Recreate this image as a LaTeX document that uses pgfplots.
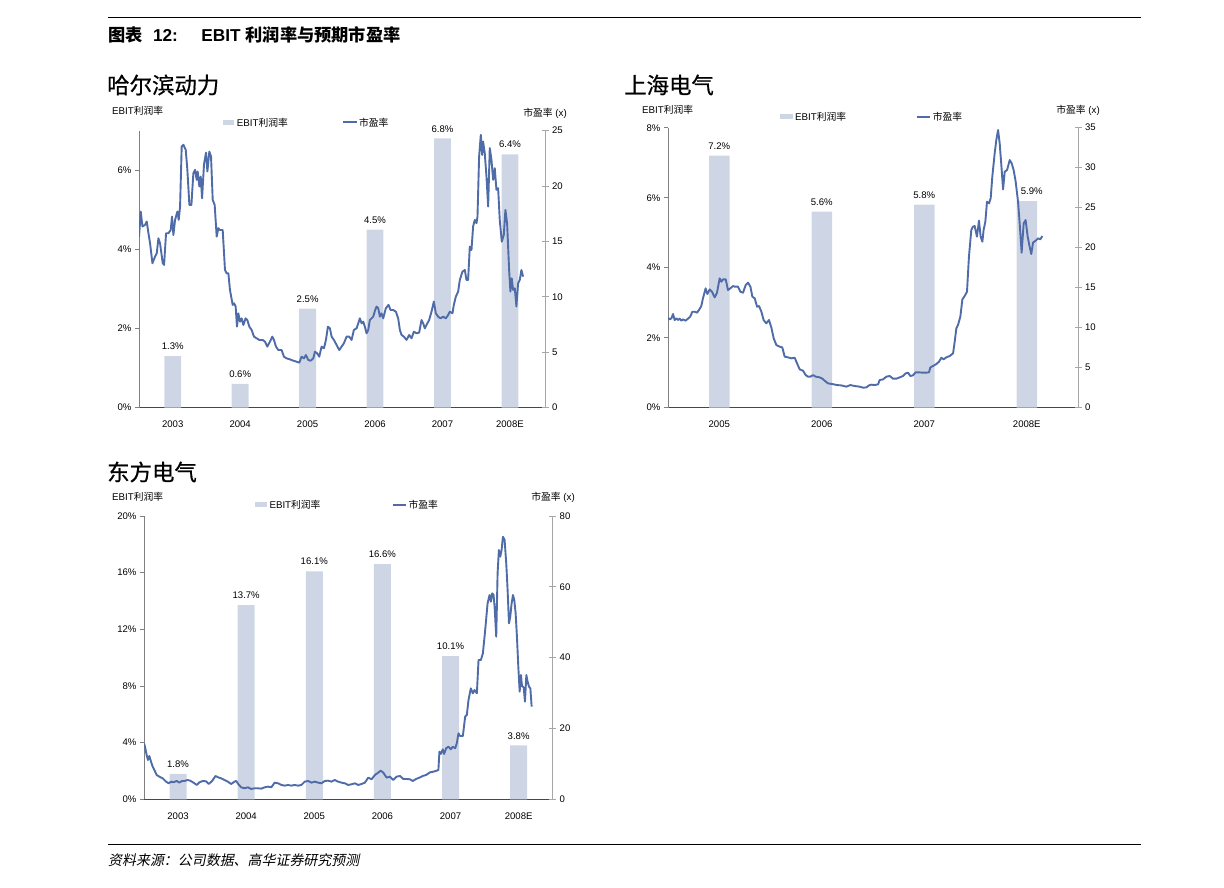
\documentclass[border=0pt]{standalone}
\usepackage{fontspec}
\setmainfont{Liberation Sans}
\newfontfamily\cjk{Noto Sans CJK SC}
\newfontfamily\cjkh[FakeBold=0.6]{Noto Sans CJK SC}
\newfontfamily\cjkit[FakeSlant=0.2]{Noto Sans CJK SC}
\usepackage{pgfplots}
\usepackage{pgfplotstable}
\pgfplotsset{compat=1.18}

\definecolor{barc}{RGB}{206,214,229}
\definecolor{linec}{RGB}{79,107,168}

\newcommand\tkfont{\fontsize{9.6}{11}\selectfont}
\newcommand\lbfont{\fontsize{9.8}{11}\selectfont}

% EBIT margins, one table per company
\pgfplotstableread{
x y
0 1.3
1 0.6
2 2.5
3 4.5
4 6.8
5 6.4
}\barsA
\pgfplotstableread{
x y
0 7.2
1 5.6
2 5.8
3 5.9
}\barsB
\pgfplotstableread{
x y
0 1.8
1 13.7
2 16.1
3 16.6
4 10.1
5 3.8
}\barsC

\pgfplotsset{
  common/.style={
    scale only axis, anchor=south west, ymin=0, enlargelimits=false,
    /pgf/number format/assume math mode=true,
    ticklabel style={font=\tkfont, text=black},
    axis line style={-},
  },
  barax/.style={common, clip=false, ybar,
    axis x line*=bottom, axis y line*=left,
    x axis line style={draw=black!72, line width=0.9bp},
    y axis line style={draw=black!50, line width=0.9bp},
    xtick={0,...,5}, xtick style={draw=none},
    ytick style={draw=black!50, line width=0.8bp},
    tick align=outside, major tick length=4bp,
    yticklabel={\pgfmathprintnumber{\tick}\%},
    xticklabel style={yshift=-5.5bp},
  },
  labax/.style={common, clip=false, ybar, bar shift=0pt, hide axis,
    nodes near coords={\pgfmathprintnumber[fixed,fixed zerofill,precision=1]{\pgfplotspointmeta}\%},
    every node near coord/.append style={font=\tkfont, text=black, inner sep=0pt, anchor=south, yshift=6bp},
  },
  lineax/.style={common,
    axis x line=none, axis y line*=right,
    y axis line style={draw=black!35, line width=0.9bp},
    ytick style={draw=black!35, line width=0.8bp},
    tick align=center, major tick length=7bp,
  },
  pe/.style={linec, line width=1.9bp, line join=round, mark=none},
  bars/.style={fill=barc, draw=none},
  nobars/.style={fill=none, draw=none},
}

\begin{document}
\begin{tikzpicture}
\path[use as bounding box] (0,0) rectangle (1224bp,-888bp);

% header and footer
\draw[line width=0.9bp] (108bp,-17bp) -- (1141bp,-17bp);
\node[anchor=west, inner sep=0pt] at (108bp,-35bp)
  {\fontsize{17.3}{19}\selectfont\bfseries{\cjk 图表}\hspace{10.4bp}12:\hspace{23.5bp}EBIT {\cjk 利润率与预期市盈率}};
\node[anchor=west, inner sep=0pt] at (107bp,-85bp) {\fontsize{22.5}{24}\selectfont\cjkh 哈尔滨动力};
\node[anchor=west, inner sep=0pt] at (624bp,-85bp) {\fontsize{22.5}{24}\selectfont\cjkh 上海电气};
\node[anchor=west, inner sep=0pt] at (107bp,-472bp) {\fontsize{22.5}{24}\selectfont\cjkh 东方电气};
\draw[line width=0.9bp] (108bp,-844bp) -- (1141bp,-844bp);
\node[anchor=west, inner sep=0pt] at (108bp,-860bp) {\fontsize{14}{16}\selectfont\cjkit 资料来源：公司数据、高华证券研究预测};

% ---------- chart 1: 哈尔滨动力 ----------
\node[anchor=west, inner sep=0pt, font=\lbfont] at (112bp,-111bp) {EBIT{\cjk 利润率}};
\node[anchor=east, inner sep=0pt, font=\lbfont] at (567bp,-113bp) {{\cjk 市盈率} (x)};
\fill[barc] (222.7bp,-119.5bp) rectangle (234.3bp,-125.1bp);
\node[anchor=west, inner sep=0pt, font=\lbfont] at (236.7bp,-122.3bp) {EBIT{\cjk 利润率}};
\draw[linec, line width=2bp] (343bp,-122.3bp) -- (357bp,-122.3bp);
\node[anchor=west, inner sep=0pt, font=\lbfont] at (359bp,-122.3bp) {\cjk 市盈率};

\begin{axis}[barax, at={(139bp,-407.7bp)}, width=406bp, height=277.2bp,
  xmin=-0.5, xmax=5.52, ymax=7, ytick={0,2,4,6}, bar width=0.25,
  xticklabels={2003,2004,2005,2006,2007,2008E}]
\addplot[bars] table {\barsA};
\end{axis}
\begin{axis}[lineax, at={(139bp,-407.7bp)}, width=406bp, height=277.2bp,
  xmin=-0.5, xmax=5.52, ymax=25, ytick={0,5,...,25}]
\addplot[pe] coordinates {
(-0.499,15.43) (-0.474,17.69) (-0.449,16.34) (-0.410,16.49) (-0.385,16.79) (-0.360,15.73) (-0.336,14.83) (-0.301,13.03) (-0.262,13.63) (-0.237,13.93) (-0.212,15.28) (-0.188,14.83) (-0.148,13.03) (-0.128,12.88) (-0.099,15.73) (-0.064,15.73) (-0.030,16.03) (-0.010,17.24) (0.010,15.58) (0.035,16.94) (0.069,17.69) (0.089,16.94) (0.109,18.14) (0.133,23.56) (0.158,23.71) (0.193,23.26) (0.217,21.45) (0.247,18.29) (0.277,18.29) (0.306,21.15) (0.331,21.45) (0.356,20.55) (0.370,21.30) (0.395,19.95) (0.415,20.85) (0.435,18.89) (0.464,21.96) (0.494,23.01) (0.514,21.30) (0.543,23.10) (0.568,22.65) (0.593,18.74) (0.622,18.29) (0.652,15.43) (0.677,16.19) (0.701,16.03) (0.741,16.03) (0.775,12.42) (0.800,12.12) (0.825,12.12) (0.849,10.62) (0.889,9.27) (0.909,9.42) (0.933,9.12) (0.953,7.31) (0.973,8.51) (0.998,7.76) (1.022,8.06) (1.047,7.46) (1.081,8.06) (1.106,7.91) (1.136,7.31) (1.170,7.01) (1.205,6.41) (1.244,6.26) (1.284,6.11) (1.333,6.11) (1.368,5.96) (1.402,5.51) (1.442,5.96) (1.477,6.41) (1.501,6.11) (1.531,5.51) (1.565,5.20) (1.615,5.20) (1.649,4.60) (1.689,4.45) (1.738,4.36) (1.788,4.24) (1.837,4.15) (1.877,4.06) (1.911,4.60) (1.946,4.45) (1.975,4.75) (2.010,4.30) (2.044,4.24) (2.084,4.45) (2.109,5.05) (2.143,4.90) (2.173,4.60) (2.207,5.51) (2.242,5.36) (2.272,6.11) (2.301,7.31) (2.331,7.16) (2.356,6.41) (2.390,6.11) (2.430,5.66) (2.469,5.20) (2.504,5.51) (2.538,5.81) (2.578,6.41) (2.617,6.41) (2.652,6.11) (2.686,7.01) (2.726,7.16) (2.751,7.61) (2.775,8.06) (2.800,7.61) (2.825,7.76) (2.849,7.31) (2.874,6.71) (2.899,7.01) (2.923,7.91) (2.948,8.06) (2.973,8.21) (3.002,8.81) (3.022,9.12) (3.047,8.97) (3.072,8.21) (3.096,8.51) (3.121,8.06) (3.160,8.97) (3.200,9.27) (3.230,8.81) (3.269,8.81) (3.309,8.66) (3.343,8.06) (3.368,7.01) (3.393,6.56) (3.427,6.41) (3.467,6.11) (3.506,6.56) (3.541,6.26) (3.575,6.86) (3.615,6.71) (3.654,6.77) (3.689,7.91) (3.714,7.61) (3.738,7.16) (3.763,7.46) (3.802,7.91) (3.837,8.66) (3.872,9.57) (3.901,8.51) (3.936,8.21) (3.970,8.06) (4.010,8.21) (4.049,8.06) (4.084,8.36) (4.109,8.66) (4.148,8.51) (4.168,9.27) (4.198,10.02) (4.232,10.47) (4.257,11.52) (4.296,12.27) (4.331,12.42) (4.356,11.52) (4.380,11.52) (4.405,14.53) (4.430,14.23) (4.454,16.34) (4.479,16.94) (4.504,16.64) (4.519,17.24) (4.543,22.65) (4.568,24.61) (4.588,22.80) (4.602,24.01) (4.627,22.95) (4.652,20.85) (4.677,18.14) (4.701,23.41) (4.726,22.37) (4.751,20.55) (4.775,21.60) (4.800,19.65) (4.825,19.80) (4.849,16.94) (4.879,14.98) (4.909,15.58) (4.933,17.84) (4.958,16.64) (4.988,12.42) (5.007,10.47) (5.027,11.67) (5.047,10.62) (5.072,10.77) (5.096,9.12) (5.121,11.22) (5.146,11.52) (5.170,12.42) (5.195,11.82)
};
\end{axis}
\begin{axis}[labax, at={(139bp,-407.7bp)}, width=406bp, height=277.2bp,
  xmin=-0.5, xmax=5.52, ymax=7, bar width=0.25]
\addplot[nobars] table {\barsA};
\end{axis}

% ---------- chart 2: 上海电气 ----------
\node[anchor=west, inner sep=0pt, font=\lbfont] at (642bp,-110bp) {EBIT{\cjk 利润率}};
\node[anchor=east, inner sep=0pt, font=\lbfont] at (1100bp,-110bp) {{\cjk 市盈率} (x)};
\fill[barc] (780bp,-113.7bp) rectangle (792.7bp,-119.3bp);
\node[anchor=west, inner sep=0pt, font=\lbfont] at (795bp,-116.5bp) {EBIT{\cjk 利润率}};
\draw[linec, line width=2bp] (916.7bp,-116.5bp) -- (930bp,-116.5bp);
\node[anchor=west, inner sep=0pt, font=\lbfont] at (932.7bp,-116.5bp) {\cjk 市盈率};

\begin{axis}[barax, at={(668bp,-407.7bp)}, width=410bp, height=280bp,
  xmin=-0.5, xmax=3.5, ymax=8, ytick={0,2,4,6,8}, bar width=0.2,
  xtick={0,...,3}, xticklabels={2005,2006,2007,2008E}]
\addplot[bars] table {\barsB};
\end{axis}
\begin{axis}[lineax, at={(668bp,-407.7bp)}, width=410bp, height=280bp,
  xmin=-0.5, xmax=3.5, ymax=35, ytick={0,5,...,35}]
\addplot[pe] coordinates {
(-0.500,11.25) (-0.484,11.04) (-0.467,11.17) (-0.451,11.71) (-0.435,10.96) (-0.419,11.17) (-0.402,10.96) (-0.386,11.13) (-0.370,10.88) (-0.354,11.04) (-0.329,10.88) (-0.305,11.13) (-0.283,11.38) (-0.263,12.00) (-0.240,12.00) (-0.217,11.88) (-0.198,12.21) (-0.175,12.71) (-0.159,13.67) (-0.133,14.92) (-0.116,14.21) (-0.093,14.79) (-0.071,14.50) (-0.045,13.79) (-0.022,14.38) (0.004,16.17) (0.020,15.75) (0.037,16.04) (0.063,16.04) (0.085,14.71) (0.108,14.92) (0.134,15.21) (0.150,15.13) (0.183,15.13) (0.206,14.50) (0.232,14.38) (0.258,15.33) (0.281,15.63) (0.304,15.13) (0.323,13.88) (0.346,13.67) (0.369,12.63) (0.388,12.71) (0.411,12.00) (0.433,10.96) (0.459,10.54) (0.485,10.96) (0.508,10.04) (0.531,8.67) (0.557,7.83) (0.589,7.63) (0.615,7.54) (0.638,6.38) (0.671,6.29) (0.703,6.17) (0.736,6.25) (0.759,5.54) (0.785,4.79) (0.817,4.63) (0.843,4.08) (0.866,3.88) (0.889,3.88) (0.915,4.08) (0.941,3.88) (0.980,3.79) (1.006,3.63) (1.028,3.38) (1.061,3.04) (1.103,2.96) (1.149,2.83) (1.191,2.79) (1.240,2.63) (1.279,2.83) (1.321,2.71) (1.370,2.63) (1.402,2.50) (1.435,2.54) (1.461,2.79) (1.484,2.88) (1.516,2.83) (1.549,2.92) (1.565,3.46) (1.598,3.54) (1.630,3.88) (1.663,3.96) (1.695,3.63) (1.728,3.63) (1.760,3.79) (1.793,3.96) (1.819,4.29) (1.842,4.38) (1.864,3.96) (1.890,4.04) (1.916,4.42) (1.949,4.42) (1.981,4.38) (2.020,4.38) (2.046,4.42) (2.060,5.04) (2.085,5.21) (2.118,5.46) (2.144,5.75) (2.167,6.25) (2.189,6.04) (2.215,6.29) (2.248,6.46) (2.281,6.79) (2.297,8.25) (2.313,9.92) (2.329,10.33) (2.352,11.38) (2.372,13.54) (2.394,13.96) (2.417,14.50) (2.436,18.88) (2.459,22.21) (2.475,22.63) (2.492,22.71) (2.514,21.38) (2.534,23.38) (2.550,21.38) (2.567,20.75) (2.579,22.21) (2.596,23.25) (2.612,25.75) (2.632,25.54) (2.648,26.17) (2.664,28.88) (2.687,31.79) (2.703,33.46) (2.720,34.71) (2.736,33.04) (2.752,30.33) (2.769,27.29) (2.785,29.50) (2.808,29.71) (2.834,30.96) (2.853,30.54) (2.872,29.71) (2.892,28.25) (2.915,25.75) (2.931,23.04) (2.950,19.38) (2.970,23.04) (2.989,23.46) (3.009,21.38) (3.028,20.13) (3.044,19.21) (3.061,20.63) (3.087,20.88) (3.110,21.17) (3.132,21.04) (3.152,21.46)
};
\end{axis}
\begin{axis}[labax, at={(668bp,-407.7bp)}, width=410bp, height=280bp,
  xmin=-0.5, xmax=3.5, ymax=8, bar width=0.2]
\addplot[nobars] table[skip coords between index={3}{4}] {\barsB};
\addplot[nobars, every node near coord/.append style={xshift=5bp}] table[skip coords between index={0}{3}] {\barsB};
\end{axis}

% ---------- chart 3: 东方电气 ----------
\node[anchor=west, inner sep=0pt, font=\lbfont] at (112bp,-497bp) {EBIT{\cjk 利润率}};
\node[anchor=east, inner sep=0pt, font=\lbfont] at (575bp,-497bp) {{\cjk 市盈率} (x)};
\fill[barc] (255bp,-501.7bp) rectangle (266.7bp,-507.3bp);
\node[anchor=west, inner sep=0pt, font=\lbfont] at (269.3bp,-504.5bp) {EBIT{\cjk 利润率}};
\draw[linec, line width=2bp] (392.7bp,-504.5bp) -- (406bp,-504.5bp);
\node[anchor=west, inner sep=0pt, font=\lbfont] at (408.3bp,-504.5bp) {\cjk 市盈率};

\begin{axis}[barax, at={(144bp,-799.3bp)}, width=408.7bp, height=283.3bp,
  xmin=-0.5, xmax=5.5, ymax=20, ytick={0,4,...,20}, bar width=0.25,
  xticklabels={2003,2004,2005,2006,2007,2008E}]
\addplot[bars] table {\barsC};
\end{axis}
\begin{axis}[lineax, at={(144bp,-799.3bp)}, width=408.7bp, height=283.3bp,
  xmin=-0.5, xmax=5.5, ymax=80, ytick={0,20,...,80}]
\addplot[pe] coordinates {
(-0.500,15.81) (-0.486,14.87) (-0.461,12.52) (-0.442,11.11) (-0.422,12.24) (-0.397,10.64) (-0.373,9.22) (-0.348,8.28) (-0.314,6.87) (-0.275,6.40) (-0.226,5.93) (-0.177,4.99) (-0.137,4.52) (-0.103,4.99) (-0.069,4.80) (-0.020,5.18) (0.020,4.71) (0.059,5.18) (0.098,5.18) (0.137,5.46) (0.177,5.27) (0.226,4.71) (0.275,4.05) (0.314,4.80) (0.363,5.18) (0.412,5.08) (0.451,4.33) (0.500,5.18) (0.550,6.59) (0.589,6.21) (0.633,5.93) (0.682,5.46) (0.731,4.99) (0.780,4.33) (0.829,4.99) (0.854,5.18) (0.893,4.05) (0.927,3.39) (0.976,3.11) (1.026,3.39) (1.075,2.92) (1.124,3.11) (1.173,3.11) (1.222,3.01) (1.271,3.39) (1.320,3.58) (1.369,3.39) (1.418,4.71) (1.467,4.52) (1.516,4.05) (1.565,3.86) (1.614,4.05) (1.663,3.86) (1.712,4.05) (1.762,3.86) (1.811,4.05) (1.860,4.99) (1.909,5.18) (1.958,4.71) (2.007,4.99) (2.056,4.71) (2.105,4.52) (2.154,5.18) (2.203,5.27) (2.252,4.99) (2.301,5.46) (2.350,4.99) (2.399,4.71) (2.448,4.52) (2.498,4.05) (2.547,4.24) (2.596,4.52) (2.645,4.05) (2.694,4.33) (2.743,4.71) (2.792,6.12) (2.841,5.65) (2.890,6.87) (2.939,7.53) (2.974,8.09) (3.013,7.53) (3.062,6.12) (3.111,6.40) (3.160,5.46) (3.209,6.40) (3.258,6.59) (3.307,5.74) (3.356,5.74) (3.405,5.65) (3.445,5.18) (3.494,5.74) (3.543,6.12) (3.592,6.59) (3.641,6.87) (3.700,7.62) (3.749,7.81) (3.798,8.09) (3.822,8.28) (3.837,13.46) (3.857,12.80) (3.886,14.12) (3.906,12.80) (3.935,14.40) (3.970,14.87) (4.004,14.12) (4.033,14.87) (4.068,14.40) (4.092,15.81) (4.117,18.64) (4.141,17.88) (4.181,17.88) (4.215,23.34) (4.239,23.81) (4.264,28.05) (4.298,31.34) (4.328,29.93) (4.352,30.87) (4.387,29.93) (4.411,39.34) (4.446,39.34) (4.475,41.22) (4.509,47.81) (4.544,55.34) (4.573,57.69) (4.593,55.81) (4.612,58.16) (4.632,57.69) (4.647,54.40) (4.671,45.93) (4.691,63.81) (4.710,70.40) (4.730,68.52) (4.750,70.40) (4.769,74.16) (4.794,73.22) (4.818,66.64) (4.838,59.11) (4.858,49.69) (4.877,51.58) (4.897,55.34) (4.917,57.69) (4.936,56.28) (4.956,52.52) (4.975,45.93) (4.995,37.46) (5.015,30.40) (5.034,35.11) (5.049,32.00) (5.074,31.62) (5.093,27.58) (5.113,35.11) (5.132,33.22) (5.152,31.81) (5.172,31.34) (5.191,26.16)
};
\end{axis}
\begin{axis}[labax, at={(144bp,-799.3bp)}, width=408.7bp, height=283.3bp,
  xmin=-0.5, xmax=5.5, ymax=20, bar width=0.25]
\addplot[nobars] table {\barsC};
\end{axis}
\end{tikzpicture}
\end{document}
